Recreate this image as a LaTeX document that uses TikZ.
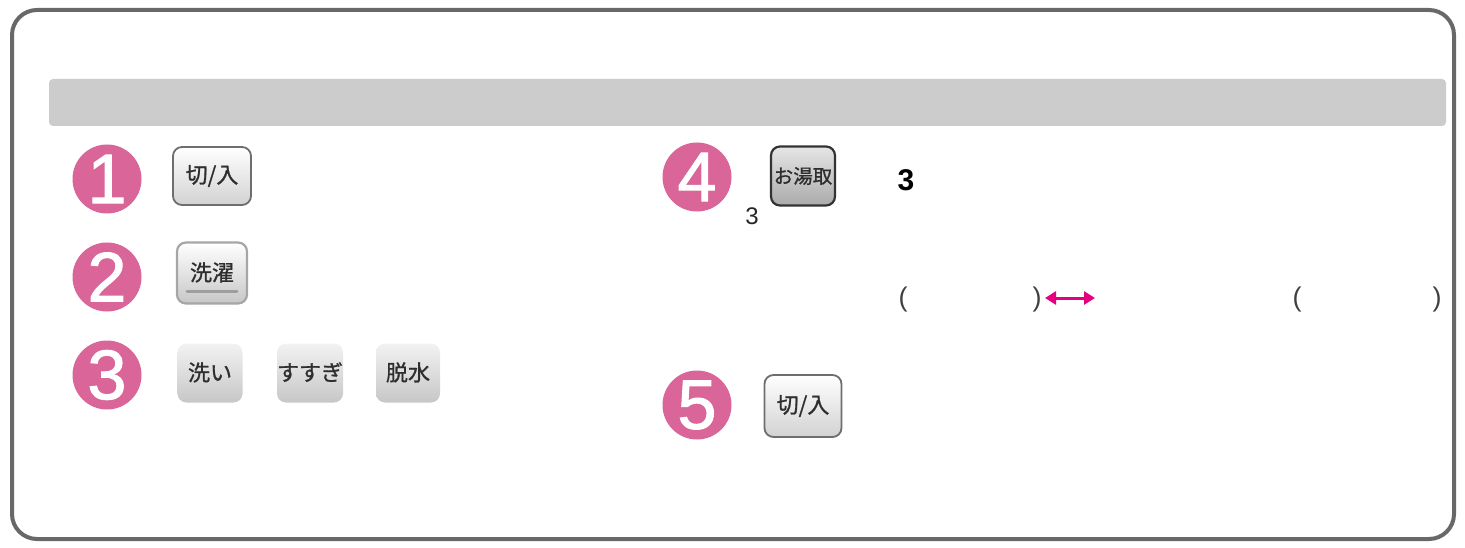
\documentclass[tikz,border=0pt]{standalone}
\usepackage{fontspec}
\setmainfont{Liberation Sans}
\newfontfamily\jpfont[FakeBold=1]{Noto Sans CJK JP}
\newfontfamily\numfont[FakeBold=1.5]{Liberation Sans}
\usetikzlibrary{arrows.meta}
\definecolor{framegray}{HTML}{686868}
\definecolor{bargray}{HTML}{CCCCCC}
\definecolor{steppink}{HTML}{DA6598}
\definecolor{keyedge}{HTML}{6E6E6E}
\definecolor{keylow}{HTML}{D2D2D2}
\definecolor{keytext}{HTML}{2E2E2E}
\definecolor{arrowpink}{HTML}{E4007F}

\begin{document}
\begin{tikzpicture}[x=1pt,y=-1pt]
\tikzstyle{num}=[circle,fill=steppink,text=white,inner sep=0pt,minimum size=69pt,font=\numfont\fontsize{70}{70}\selectfont]
\tikzstyle{key}=[rounded corners=9pt,draw=keyedge,line width=1.8pt,top color=white,bottom color=keylow,text=keytext,inner sep=0pt,font=\jpfont\fontsize{22}{22}\selectfont]
\tikzstyle{flatkey}=[key,draw=none,top color=black!5,bottom color=black!22]
\tikzstyle{paren}=[font=\fontsize{27}{27}\selectfont,text=black!75]

\useasboundingbox (0,0) rectangle (1465,548);
\draw[line width=4pt,rounded corners=25pt,color=framegray] (12,10) rectangle (1454,539);
\fill[bargray,rounded corners=4pt] (49,79) rectangle (1446,126);

% left column
\node[num] (n1) at (107,179) {1};
\node[num] (n2) at (107,277) {2};
\node[num] (n3) at (107,375) {3};
\node[key,minimum width=78pt,minimum height=58pt] (power) at (212,176) {切/入};
\node[key,draw=black!35,line width=2.2pt,top color=white,bottom color=black!22,minimum width=70pt,minimum height=61pt] (wash) at (212,273) {\raisebox{3pt}{洗濯}};
\draw[line width=3pt,line cap=round,black!38] (187,291) -- (237,291);
\node[flatkey,minimum width=65pt,minimum height=59pt] (arai) at (210,373) {\raisebox{3pt}{洗い}};
\node[flatkey,minimum width=65pt,minimum height=59pt] (susugi) at (310,373) {\raisebox{3pt}{すすぎ}};
\node[flatkey,minimum width=64pt,minimum height=59pt] (dassui) at (408,373) {\raisebox{3pt}{脱水}};

% right column
\node[num] (n4) at (697,177) {4};
\node[num] (n5) at (697,405) {5};
\node[key,draw=black!80,line width=2.2pt,top color=black!10,bottom color=black!33,minimum width=64pt,minimum height=59pt,font=\jpfont\fontsize{19.5}{19.5}\selectfont] (oyu) at (803,176) {お湯取};
\node[key,minimum width=77pt,minimum height=62pt] (power2) at (803,406) {切/入};
\node[font=\bfseries\fontsize{30}{30}\selectfont] (three) at (906,180) {3};
\node[font=\fontsize{24}{24}\selectfont,text=black!85] (three2) at (752,216) {3};

\node[paren] (p1) at (903,300) {(};
\node[paren] (p2) at (1037,300) {)};
\node[paren] (p3) at (1297,300) {(};
\node[paren] (p4) at (1437,300) {)};
\coordinate (a1) at (1045,298);
\coordinate (a2) at (1095,298);
\draw[arrowpink,line width=3pt,{Triangle[length=11pt,width=13pt]}-{Triangle[length=11pt,width=13pt]}] (a1) -- (a2);
\end{tikzpicture}
\end{document}
